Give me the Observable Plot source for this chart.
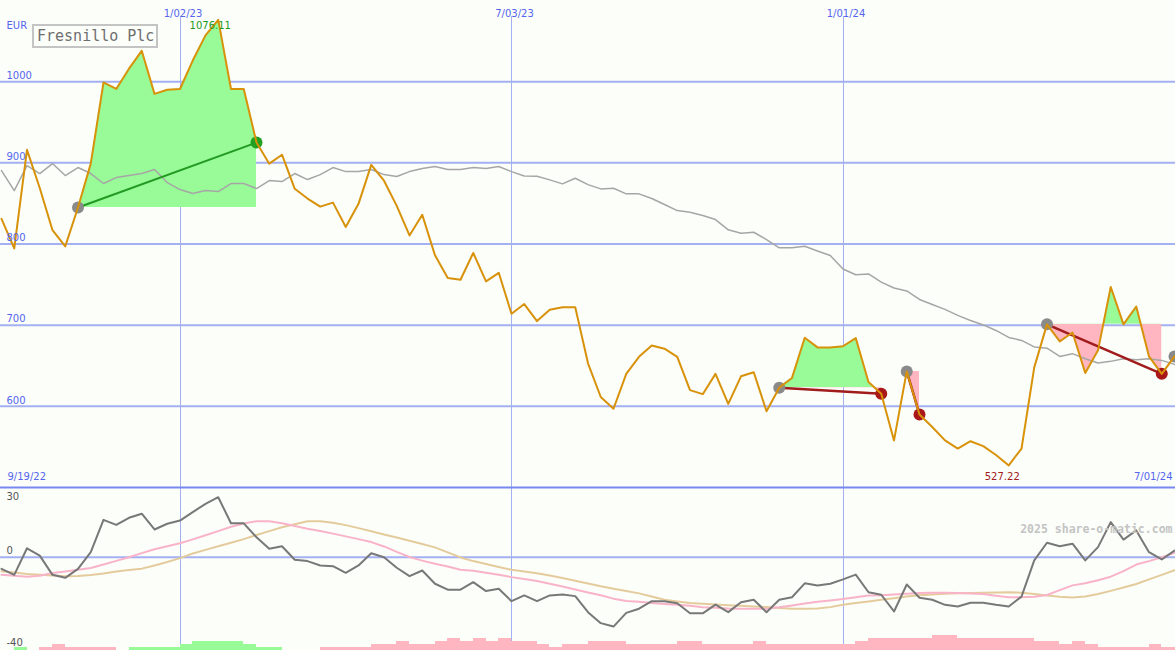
<!DOCTYPE html>
<html><head><meta charset="utf-8">
<script src="https://cdn.jsdelivr.net/npm/d3@7"></script>
<script src="https://cdn.jsdelivr.net/npm/@observablehq/plot@0.6"></script>
<style>
html,body{margin:0;padding:0;background:#fcfefa;}
#chart{position:relative;width:1175px;height:650px;overflow:hidden;background:#fcfefa;}
#chart svg{display:block;}
.layer{position:absolute;left:0;width:1175px;}
.title{position:absolute;left:32px;top:24px;width:119px;height:20px;border:2px solid #c4c4c4;
  font:15px "DejaVu Sans Mono",monospace;color:#6e6e6e;line-height:20px;padding-left:3px;background:#fcfefa;white-space:nowrap;}
</style></head>
<body>
<div id="chart"></div>
<script>
// ---- data (weekly, first week 2022-09-26) ----
const firstWeek = "2022-09-26";
const price = [831,794.5,916,869,817,797,845,899,999,991,
  1016,1038,985,990,991,1026,1057,1076.11,991,991,
  925,899,910,868,856,846,851,821,849.5,897.5,
  878,847,810.5,836,786,758,756,789,754,764.5,
  714,726,705,719,722,722,653,611.5,597,640,
  661,675,671,661,620,615,640,603,637,642,
  594,623,635,684.5,672.6,672.6,674,684,630,615.6,
  558,643,590,574.5,558,548,557,551,540,527.22,
  548,648,701,680,691,641,669,747,701,723,
  661.5,640,661.5];
const movingAvg = [890.5,865.8,896.6,886.8,899.1,884.3,894.2,886.8,874.5,881.8,
  884.3,886.8,891.7,875.7,867.1,862.2,865.8,864.6,874.5,874.5,
  868.3,878.2,876.9,886.8,879.4,885.5,894.2,889.2,889.2,891.7,
  885.5,883.1,889.2,892.9,895.4,891.7,891.7,894.2,892.9,895.4,
  889.2,883.7,883.5,879,874.1,881,873.2,867.9,868.7,861.8,
  861.8,856,848.6,841.2,839.1,835.1,830.1,817.5,813.3,814.5,
  805.5,795.3,795.3,797.3,791.4,785.8,769.2,762.1,763.1,753,
  745.8,742.1,731.7,725.5,719.4,712,705.8,700.3,693.5,684.9,
  681.2,673.2,671.7,661.5,664.9,658.7,653.3,655.4,658.7,657.5,
  658.7,656.6,651.7];
const oscillator = [-5.1,-7.7,3.9,0.7,-7.7,-9.0,-5.1,2.2,16.3,14.1,
  17.2,19.0,12.1,14.6,16.0,19.7,23.3,26.2,14.8,14.8,
  8.7,3.7,4.8,-1.1,-1.7,-3.6,-3.9,-6.8,-3.6,1.7,
  0,-4.6,-8.3,-5.8,-11.6,-14.2,-14.2,-10.9,-14.8,-13.8,
  -19.2,-16.7,-19.2,-16.7,-16.3,-17.0,-24.0,-28.8,-30.3,-24.3,
  -22.5,-19.2,-19.2,-20.1,-24.5,-24.5,-20.7,-24.0,-19.7,-18.6,
  -24.0,-18.6,-17.5,-11.4,-12.4,-11.6,-9.7,-7.6,-15.3,-16.4,
  -23.7,-11.9,-17.7,-18.6,-20.8,-21.5,-19.9,-19.9,-20.8,-21.5,
  -17.2,-1.4,6.3,4.8,5.9,-1.4,4.4,15.3,7.7,11.7,
  2.2,-1.0,2.9];
const signalLine = [-7.7,-8.1,-8.5,-8.1,-6.9,-6.2,-5.5,-4.7,-3.2,-1.6,
  0,1.8,3.5,4.8,6.1,7.8,9.6,11.4,13.3,14.7,
  15.7,15.7,14.8,13.6,12.4,11.4,10.3,9.1,7.9,6.6,
  4.7,2.3,0.1,-1.5,-2.9,-4.1,-5.5,-5.9,-6.8,-7.7,
  -8.7,-9.5,-10.4,-11.6,-12.8,-14.1,-15.4,-16.6,-18.1,-19.1,
  -19.5,-20,-20.4,-20.8,-21.2,-21.9,-22.1,-22.4,-22.5,-22.5,
  -22.5,-21.9,-21.1,-20.2,-19.5,-18.9,-18.3,-17.5,-16.7,-16.6,
  -16.3,-16,-15.6,-15.5,-15.5,-15.6,-15.8,-16.1,-16.8,-17.5,
  -17.5,-17.3,-16.5,-14.4,-12.3,-11.4,-10.1,-8.5,-6.1,-3.2,
  -1.7,0,1.9];
const slowLine = [-6.1,-6.7,-7.3,-7.7,-8.0,-8.3,-8.2,-7.8,-7.1,-6.2,
  -5.6,-5.0,-3.6,-2.1,-0.4,1.6,3.2,4.8,6.3,7.9,
  9.7,11.4,13.1,14.4,15.7,15.7,15.0,14.0,12.7,11.3,
  9.9,8.6,7.2,5.8,4.3,2.1,-0.1,-1.7,-3.0,-4.3,
  -5.5,-6.2,-7.0,-8.0,-9.1,-10.3,-11.5,-12.7,-13.8,-14.8,
  -15.8,-17.2,-18.6,-19.3,-20.0,-20.3,-20.7,-21.0,-21.2,-21.5,
  -21.8,-22.2,-22.5,-22.5,-22.4,-21.8,-20.8,-20.0,-19.3,-18.6,
  -17.9,-17.2,-16.6,-16.3,-16.0,-15.7,-15.6,-15.5,-15.4,-15.3,
  -15.5,-16.1,-16.7,-17.3,-17.6,-17.2,-16.1,-14.7,-13.2,-11.7,
  -9.7,-7.7,-5.7];
const strength = [0,1,0,-1,-2,-1,-1,-1,-1,0,
  1,1,1,1,2,3,3,3,3,2,
  1,1,0,0,0,-1,-1,-1,-1,-2,
  -2,-3,-2,-2,-3,-4,-3,-4,-3,-4,
  -3,-3,-2,-1,-2,-2,-3,-3,-3,-2,
  -2,-2,-2,-3,-3,-2,-2,-2,-2,-3,
  -2,-2,-2,-2,-2,-2,-2,-3,-4,-4,
  -4,-4,-4,-5,-5,-4,-4,-4,-4,-4,
  -4,-3,-3,-2,-3,-2,-1,-1,-1,-1,
  -2,-1,-1];
const signalStart = [6, 61, 71, 82];
const signalEnd = [20, 69, 72, 91];
const openSignals = [92];
const peakIndex = 17;
const lowIndex = 79;
const priceTicks = [600, 700, 800, 900, 1000];
const oscTicks = [0, -40];
const oscTopTick = [30];
const xTickDates = ["2023-01-02", "2023-07-03", "2024-01-01"];
const xTickLabels = ["1/02/23", "7/03/23", "1/01/24"];
const startLabel = "9/19/22";
const endLabel = "7/01/24";
const currency = "EUR";
const chartTitle = "Fresnillo Plc";
const watermark = "2025 share-o-matic.com";

// ---- build ----
const t0 = new Date(firstWeek + "T00:00:00Z");
const dates = price.map((_, i) => d3.utcDay.offset(t0, 7 * i));
const rows = dates.map((date, i) => ({date, price: price[i], ma: movingAvg[i], osc: oscillator[i], sig: signalLine[i], slow: slowLine[i]}));
const xTicks = xTickDates.map(s => new Date(s + "T00:00:00Z"));
const signals = signalStart.map((a, k) => {
  const b = signalEnd[k];
  return {k, a, b, base: price[a], d1: dates[a], p1: price[a], d2: dates[b], p2: price[b]};
});
const barRows = strength.map((s, i) => ({s, d1: dates[i], d2: d3.utcDay.offset(dates[i], 7)})).filter(d => d.s !== 0);

const X = {type: "utc", domain: [dates[0], dates[dates.length - 1]], range: [1, 1174], axis: null};
const Y = {domain: [500, 1100], range: [487, 0], axis: null};
const BLUE = "#5565ee", GRID = "#a3b1f3", EDGE = "#7888ef";
const FONT = "DejaVu Sans";
const baseStyle = {background: "transparent", fontFamily: FONT, fontSize: "10px", overflow: "visible"};
const chart = document.getElementById("chart");
function addLayer(node, top, height, shift) {
  const wrap = document.createElement("div");
  wrap.className = "layer";
  wrap.style.top = top + "px";
  if (height != null) { wrap.style.height = height + "px"; wrap.style.overflow = "hidden"; }
  if (shift) node.style.marginTop = (-shift) + "px";
  wrap.appendChild(node);
  chart.appendChild(wrap);
}

// grid of the price panel
const grid = Plot.plot({
  width: 1175, height: 488, margin: 0, x: X, y: Y, style: baseStyle,
  marks: [
    Plot.ruleY(priceTicks, {stroke: GRID, strokeWidth: 2}),
    Plot.ruleX(xTicks, {y1: 500, y2: 1080, stroke: GRID, strokeWidth: 1, shapeRendering: "crispEdges"})
  ]
});
addLayer(grid, 0);

// oscillator panel
const lower = Plot.plot({
  width: 1175, height: 163, margin: 0,
  x: X, y: {domain: [-40, 30], range: [161.3, 1], axis: null},
  style: baseStyle,
  marks: [
    Plot.ruleY([0], {stroke: GRID, strokeWidth: 2}),
    Plot.ruleX(xTicks, {stroke: GRID, strokeWidth: 1, shapeRendering: "crispEdges"}),
    Plot.line(rows, {x: "date", y: "slow", stroke: "#e4cb9c", strokeWidth: 2}),
    Plot.line(rows, {x: "date", y: "sig", stroke: "#f9b3c8", strokeWidth: 2}),
    Plot.line(rows, {x: "date", y: "osc", stroke: "#787878", strokeWidth: 2}),
    Plot.text(oscTicks, {y: d => d, text: d => String(d), frameAnchor: "left", textAnchor: "start", dx: 6, dy: -6, fill: "#555"}),
    Plot.text(oscTopTick, {y: d => d, text: d => String(d), frameAnchor: "left", textAnchor: "start", dx: 6, dy: 8, fill: "#555"}),
    Plot.text([watermark], {text: d => d, frameAnchor: "top-right", textAnchor: "end", dx: -3, dy: 37,
      fill: "#c4c4c4", fontFamily: "DejaVu Sans Mono", fontWeight: "bold", fontSize: 11.5})
  ]
});
addLayer(lower, 487);

// gain (above entry) / loss (below entry) fills, each shown only on its side of the entry price
const yPix = d3.scaleLinear(Y.domain, Y.range);
signals.forEach(s => {
  const seg = rows.slice(s.a, s.b + 1);
  [["#98fb98", true], ["#ffb6c1", false]].forEach(([color, above]) => {
    const p = Plot.plot({
      width: 1175, height: 488, margin: 0, x: X, y: Y, style: baseStyle,
      marks: [Plot.areaY(seg, {x: "date", y1: s.base, y2: "price", fill: color})]
    });
    let yb;
    try { yb = p.scale("y").apply(s.base); } catch (e) {}
    if (!Number.isFinite(yb)) yb = yPix(s.base);
    if (above) addLayer(p, 0, yb, 0);
    else addLayer(p, yb, 488 - yb, yb);
  });
});

const gainSig = signals.filter(s => s.p2 >= s.p1);
const lossSig = signals.filter(s => s.p2 < s.p1);
const upper = Plot.plot({
  width: 1175, height: 488, margin: 0, x: X, y: Y, style: baseStyle,
  marks: [
    Plot.line(rows, {x: "date", y: "ma", stroke: "#a6a6a6", strokeWidth: 1.5}),
    Plot.link(gainSig, {x1: "d1", y1: "p1", x2: "d2", y2: "p2", stroke: "#229a22", strokeWidth: 2}),
    Plot.link(lossSig, {x1: "d1", y1: "p1", x2: "d2", y2: "p2", stroke: "#a11c1c", strokeWidth: 2.5}),
    Plot.dot(signals.concat(openSignals.map(a => ({d1: dates[a], p1: price[a]}))), {x: "d1", y: "p1", r: 6, fill: "#8a8a8a"}),
    Plot.dot(gainSig, {x: "d2", y: "p2", r: 6, fill: "#22a022"}),
    Plot.dot(lossSig, {x: "d2", y: "p2", r: 6, fill: "#a81818"}),
    Plot.line(rows, {x: "date", y: "price", stroke: "#d8920a", strokeWidth: 2}),
    Plot.ruleY([500], {stroke: EDGE, strokeWidth: 2}),
    Plot.text(priceTicks, {y: d => d, text: d => String(d), frameAnchor: "left", textAnchor: "start", dx: 6, dy: -6, fill: BLUE}),
    Plot.text([currency], {text: d => d, frameAnchor: "top-left", textAnchor: "start", dx: 6, dy: 21, fill: BLUE}),
    Plot.text(xTicks, {x: d => d, text: (d, i) => xTickLabels[i], frameAnchor: "top", dx: 3, dy: 9, fill: BLUE}),
    Plot.text([startLabel], {text: d => d, frameAnchor: "bottom-left", textAnchor: "start", dx: 7, dy: -9, fill: BLUE}),
    Plot.text([endLabel], {text: d => d, frameAnchor: "bottom-right", textAnchor: "end", dx: -3, dy: -9, fill: BLUE}),
    Plot.text([peakIndex], {x: i => dates[i], text: i => price[i].toFixed(2), frameAnchor: "top", dx: -8, dy: 21, fill: "#229a22"}),
    Plot.text([lowIndex], {x: i => dates[i], text: i => price[i].toFixed(2), frameAnchor: "bottom", dx: -6.5, dy: -9, fill: "#a11c1c"})
  ]
});
addLayer(upper, 0);

const bars = Plot.plot({
  width: 1175, height: 16, margin: 0,
  x: X, y: {domain: [0, 16 / 3], range: [16, 0], axis: null},
  style: {background: "transparent"},
  marks: [
    Plot.rect(barRows.filter(d => d.s > 0), {x1: "d1", x2: "d2", y1: 0, y2: d => d.s, fill: "#98fb98", shapeRendering: "crispEdges"}),
    Plot.rect(barRows.filter(d => d.s < 0), {x1: "d1", x2: "d2", y1: 0, y2: d => -d.s, fill: "#ffb6c1", shapeRendering: "crispEdges"})
  ]
});
addLayer(bars, 634);

const titleBox = document.createElement("div");
titleBox.className = "title";
titleBox.textContent = chartTitle;
chart.appendChild(titleBox);
</script>
</body></html>
